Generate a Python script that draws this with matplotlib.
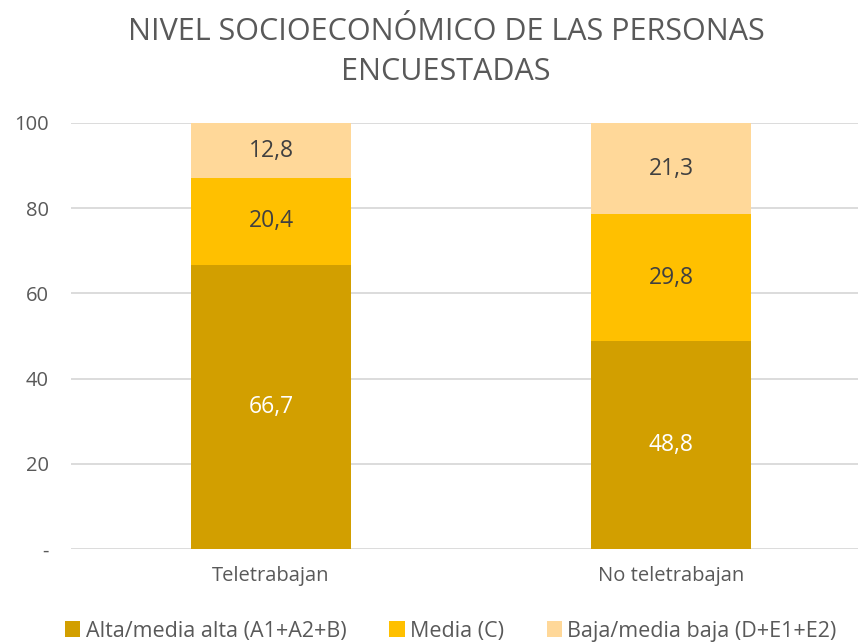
import matplotlib
matplotlib.use("Agg")
import matplotlib.pyplot as plt
import numpy as np

categories = ["Teletrabajan", "No teletrabajan"]
series_names = ["Alta/media alta (A1+A2+B)", "Media (C)", "Baja/media baja (D+E1+E2)"]
alta = [66.7, 48.8]
media = [20.4, 29.8]
baja = [12.8, 21.3]
yticks = [0, 20, 40, 60, 80, 100]
ytick_labels = ["-", "20", "40", "60", "80", "100"]

colors = ["#D29F00", "#FFC000", "#FFD899"]
label_colors = ["white", "#404040", "#404040"]

plt.rcParams['font.family'] = ['Open Sans', 'DejaVu Sans']

W, H = 858, 643
fig = plt.figure(figsize=(W / 100, H / 100), dpi=100)
ax = fig.add_axes([71 / W, 1 - 549 / H, 1 - 71 / W, (549 - 123) / H])

x = np.arange(len(categories))
bottom = np.zeros(len(categories))
handles = []
for vals, c, lc, name in zip([alta, media, baja], colors, label_colors, series_names):
    vals = np.array(vals)
    b = ax.bar(x, vals, 0.4, bottom=bottom, color=c, label=name, zorder=3)
    handles.append(b)
    for xi, v, bt in zip(x, vals, bottom):
        ax.text(xi, bt + v / 2, f"{v:.1f}".replace(".", ","), ha="center", va="center",
                fontsize=16.5, color=lc, zorder=4)
    bottom = bottom + vals

ax.set_xlim(-0.5, -0.5 + (W - 71) / 400)
ax.set_ylim(0, 100)
ax.set_yticks(yticks)
ax.set_yticklabels(ytick_labels)
ax.set_xticks(x)
ax.set_xticklabels(categories)
ax.grid(axis="y", color="#D9D9D9", linewidth=1.3, zorder=0)
for s in ax.spines.values():
    s.set_visible(False)
ax.tick_params(axis="both", length=0, labelsize=14.5, colors="#595959")
ax.tick_params(axis="y", pad=16)
ax.tick_params(axis="x", pad=12)

fig.text(446 / W, 1 - 52 / H, "NIVEL SOCIOECONÓMICO DE LAS PERSONAS\nENCUESTADAS",
         ha="center", va="center", fontsize=22, color="#595959", linespacing=1.4)

leg = fig.legend(handles=handles, loc="center", bbox_to_anchor=(451 / W, 1 - 631 / H),
                 ncol=3, frameon=False, fontsize=15.5, handlelength=0.7, handleheight=0.7,
                 handletextpad=0.25, columnspacing=2.0, borderpad=0)
for t in leg.get_texts():
    t.set_color("#595959")

fig.savefig("out.png", dpi=100)
